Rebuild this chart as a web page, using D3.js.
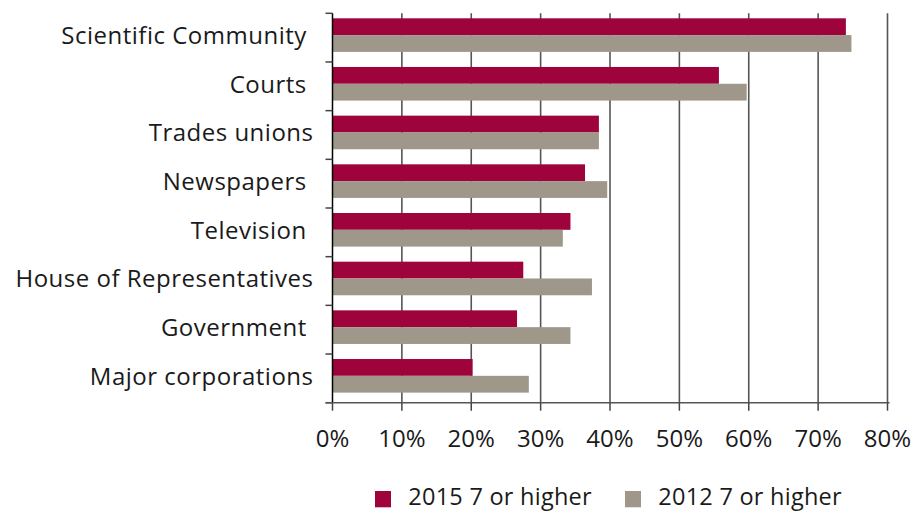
<!DOCTYPE html>
<html>
<head>
<meta charset="utf-8">
<script src="https://cdn.jsdelivr.net/npm/d3@7/dist/d3.min.js"></script>
<style>
  html, body { margin: 0; padding: 0; background: #fff; }
  svg { display: block; }
  text { font-family: "Open Sans", Lato, sans-serif; fill: #1a1a1a; }
</style>
</head>
<body>
<svg id="chart" width="914" height="511"></svg>
<script>
// Trust scores: share rating each institution 7 or higher
const categories = [
  "Scientific Community ",
  "Courts ",
  "Trades unions",
  "Newspapers ",
  "Television ",
  "House of Representatives",
  "Government ",
  "Major corporations"
];
const series2015 = [74, 55.7, 38.4, 36.4, 34.3, 27.5, 26.6, 20.2];
const series2012 = [74.8, 59.7, 38.4, 39.6, 33.2, 37.4, 34.3, 28.3];
const seriesNames = ["2015 7 or higher", "2012 7 or higher"];
const xTicks = [0, 10, 20, 30, 40, 50, 60, 70, 80];

const colors = ["#9e033b", "#9e978a"];

const svg = d3.select("#chart");
const plotLeft = 332.5, plotRight = 887.5, plotTop = 13.3, plotBottom = 402.7;

const x = d3.scaleLinear().domain([0, 80]).range([plotLeft, plotRight]);
const y = d3.scaleBand().domain(categories).range([plotTop, plotBottom]);
const barH = 16.8;
const groupOffset = 5;

// vertical gridlines
svg.append("g")
  .selectAll("line")
  .data(xTicks.slice(1))
  .join("line")
  .attr("x1", d => x(d)).attr("x2", d => x(d))
  .attr("y1", plotTop).attr("y2", plotBottom)
  .attr("stroke", "#555").attr("stroke-width", 1.6);

// bars
const groups = svg.append("g")
  .selectAll("g")
  .data(categories.map((c, i) => ({ c, vals: [series2015[i], series2012[i]] })))
  .join("g")
  .attr("transform", d => `translate(0,${y(d.c) + groupOffset})`);

groups.selectAll("rect")
  .data(d => d.vals)
  .join("rect")
  .attr("x", x(0))
  .attr("y", (d, i) => i * barH)
  .attr("width", d => x(d) - x(0))
  .attr("height", barH)
  .attr("fill", (d, i) => colors[i]);

// y axis
const yAxis = svg.append("g")
  .attr("transform", `translate(${plotLeft},0)`);
yAxis.append("line")
  .attr("x1", 0).attr("x2", 0).attr("y1", plotTop).attr("y2", plotBottom)
  .attr("stroke", "#000").attr("stroke-width", 1.5);
yAxis.selectAll("line.tick")
  .data(categories.map(c => y(c)).concat([plotBottom]))
  .join("line")
  .attr("class", "tick")
  .attr("x1", -7).attr("x2", 0)
  .attr("y1", d => d).attr("y2", d => d)
  .attr("stroke", "#444").attr("stroke-width", 1.5);
yAxis.selectAll("text")
  .data(categories)
  .join("text")
  .attr("x", -19)
  .attr("y", d => y(d) + y.bandwidth() / 2 - 2)
  .attr("dy", "0.35em")
  .attr("text-anchor", "end")
  .attr("font-size", 24)
  .attr("letter-spacing", 0.5)
  .style("white-space", "pre")
  .text(d => d);

// x axis
const xAxis = svg.append("g")
  .attr("transform", `translate(0,${plotBottom})`);
xAxis.append("line")
  .attr("x1", plotLeft - 7).attr("x2", plotRight + 2).attr("y1", 0).attr("y2", 0)
  .attr("stroke", "#555").attr("stroke-width", 1.5);
xAxis.selectAll("line.tick")
  .data(xTicks)
  .join("line")
  .attr("class", "tick")
  .attr("x1", d => x(d)).attr("x2", d => x(d))
  .attr("y1", 0).attr("y2", 8)
  .attr("stroke", "#444").attr("stroke-width", 1.5);
xAxis.selectAll("text")
  .data(xTicks)
  .join("text")
  .attr("x", d => x(d))
  .attr("y", 44.3)
  .attr("text-anchor", "middle")
  .attr("font-size", 24)
  .text(d => d + "%");

// legend
const legendX = [375, 625];
const legend = svg.append("g");
seriesNames.forEach((name, i) => {
  legend.append("rect")
    .attr("x", legendX[i]).attr("y", 491)
    .attr("width", 16).attr("height", 16.3)
    .attr("fill", colors[i]);
  legend.append("text")
    .attr("x", legendX[i] + 33.3).attr("y", 505)
    .attr("font-size", 23.5)
    .attr("letter-spacing", 0.25)
    .text(name);
});
</script>
</body>
</html>
